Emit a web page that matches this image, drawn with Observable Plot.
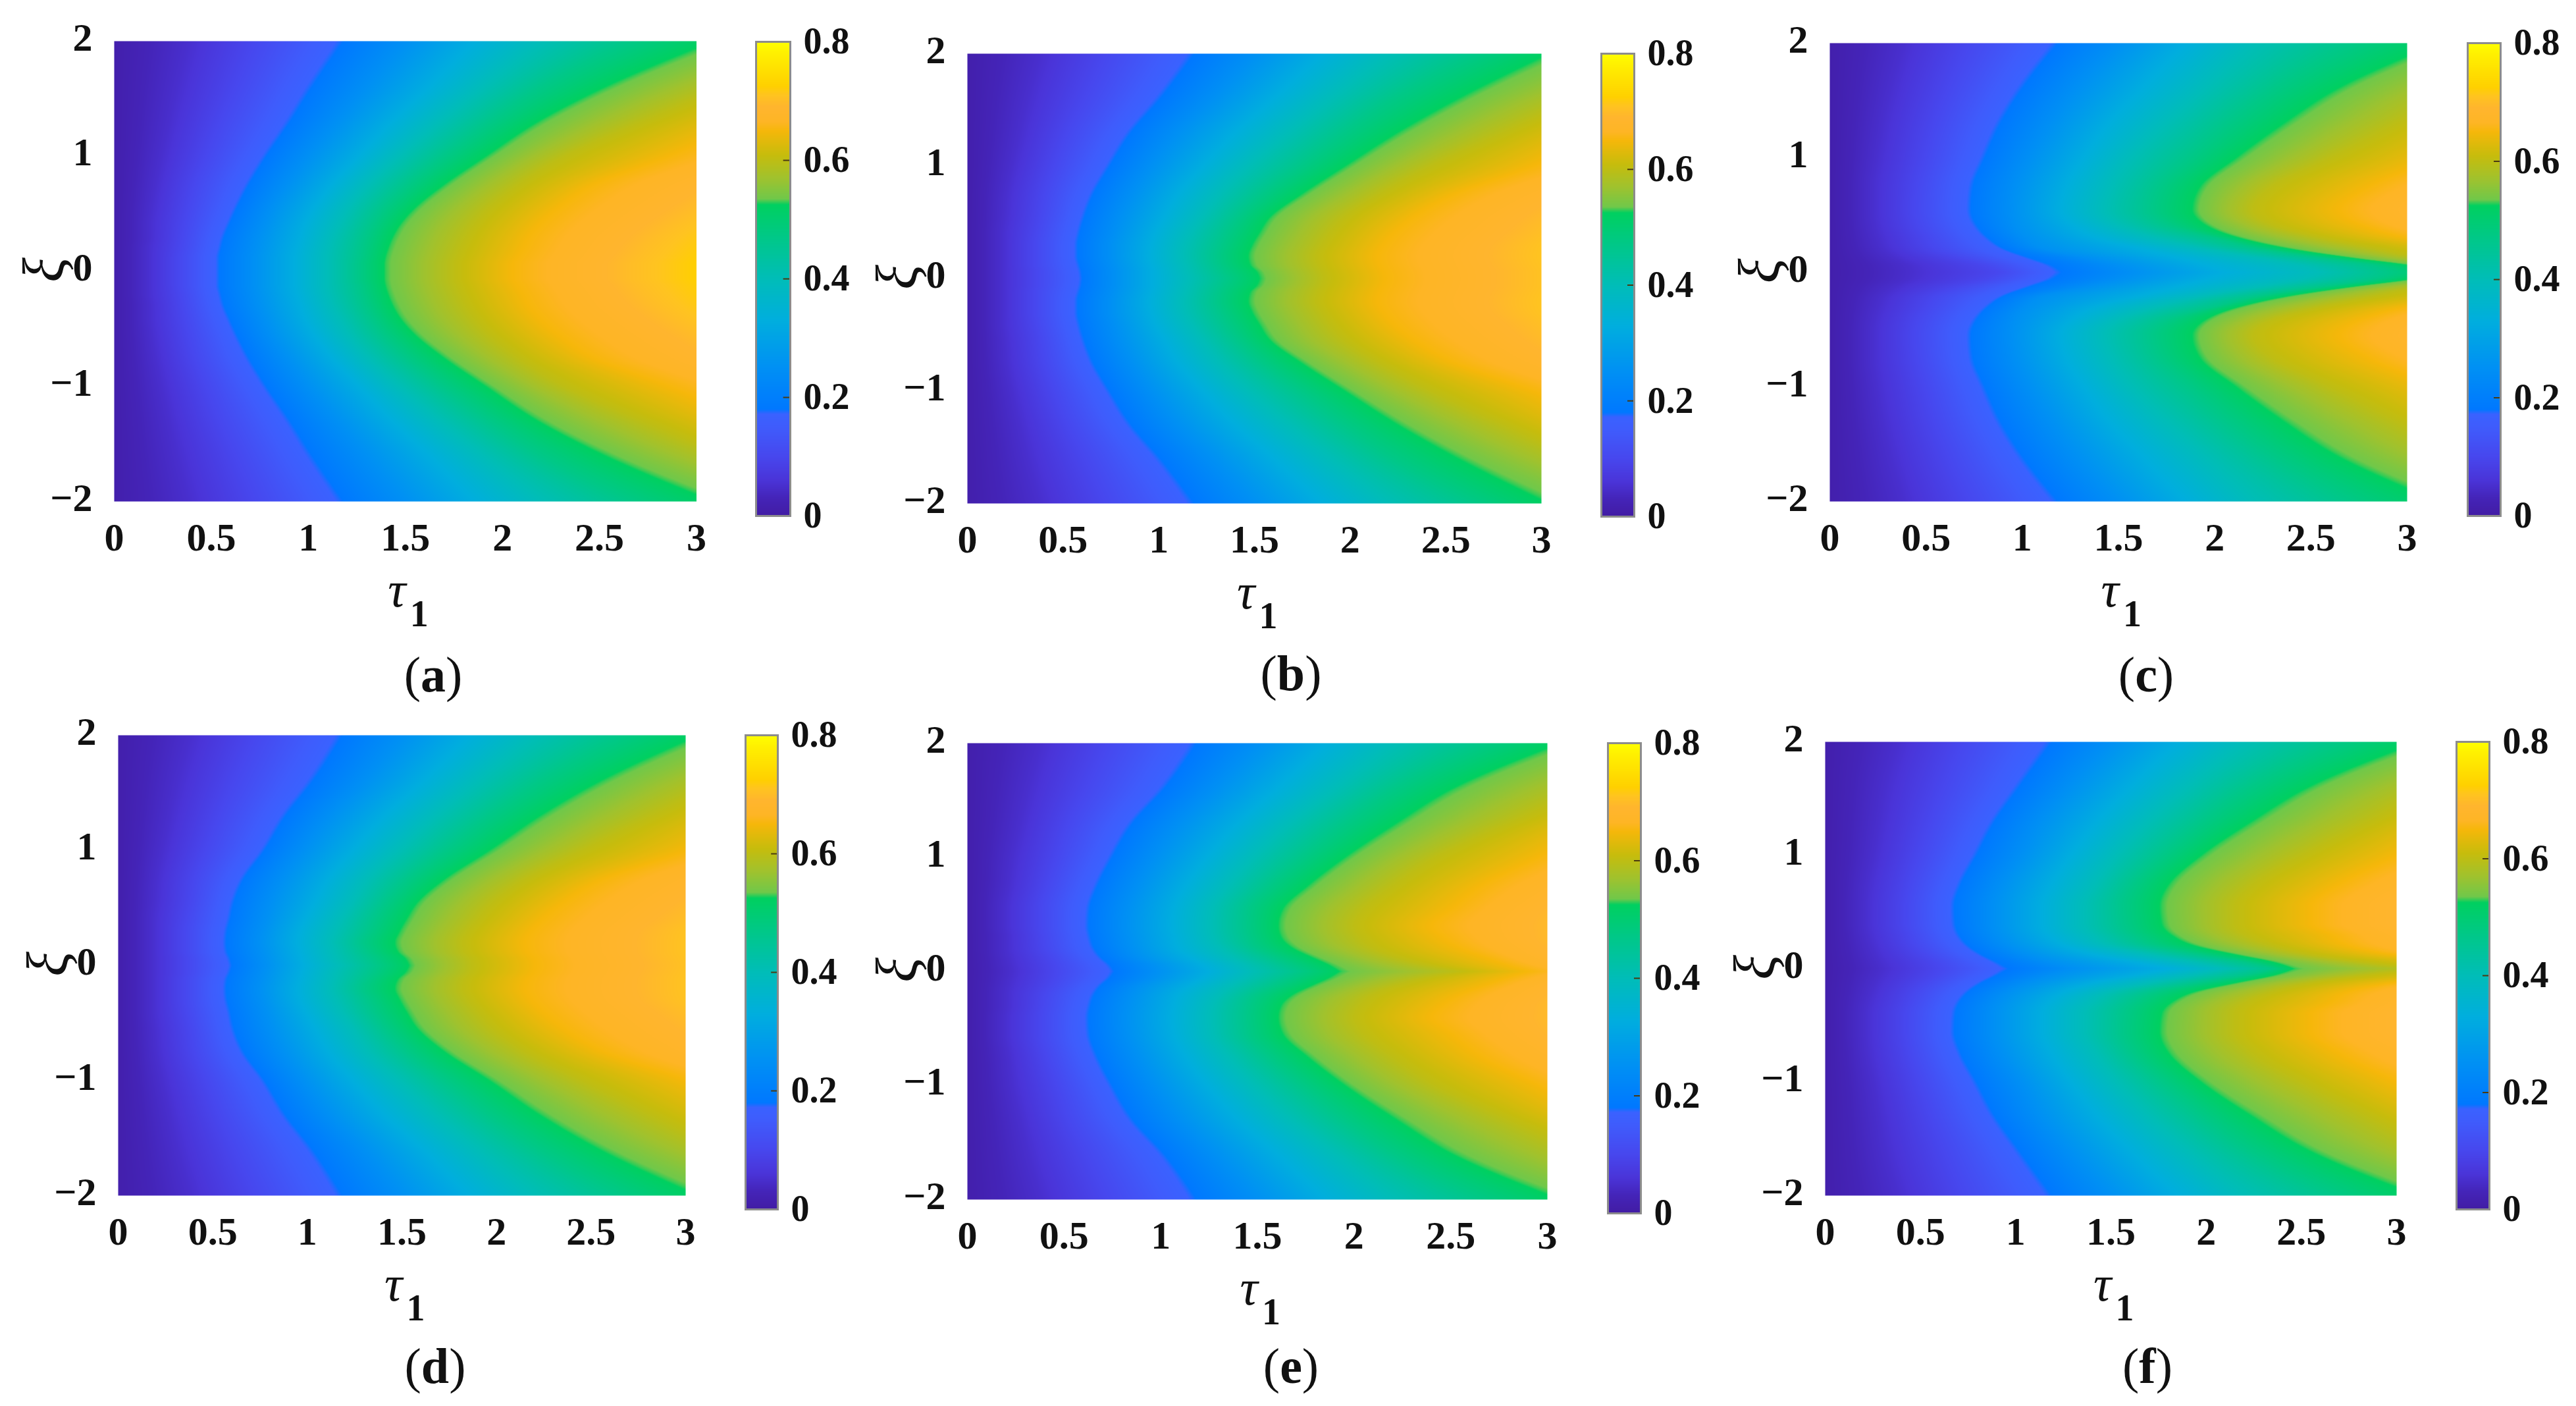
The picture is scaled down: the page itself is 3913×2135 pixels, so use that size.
<!DOCTYPE html>
<html><head><meta charset="utf-8">
<script src="https://cdn.jsdelivr.net/npm/d3@7"></script>
<script src="https://cdn.jsdelivr.net/npm/@observablehq/plot@0.6"></script>
<style>
html,body{margin:0;padding:0;background:#fff}
#chart{position:relative;width:3913px;height:2135px;overflow:hidden;font-family:"Liberation Serif",serif}
#chart svg{position:absolute;overflow:visible;background:transparent}
.cap{position:absolute;font-size:76px;line-height:1;transform:translate(-50%,-50%);color:#111;white-space:nowrap}
</style></head><body><div id="chart"></div>
<script>
// Tick labels
const tauTicks = [0, 0.5, 1, 1.5, 2, 2.5, 3];
const xiTicks = [-2, -1, 0, 1, 2];
const barTicks = [0, 0.2, 0.4, 0.6, 0.8];
const barMinorTicks = [0.2, 0.4, 0.6];
const captions = ["a", "b", "c", "d", "e", "f"];

// Colour bar
const colorStops = [0, .03, .06, .10, .15, .172, .18, .25, .33, .40, .47, .525, .535, .57, .61, .65, .665, .69, .71, .725, .78, .80];
const colorValues = ["#421ca4", "#4424b8", "#4a34d8", "#4747ee", "#3f5cfc", "#3a62ff", "#0078ff", "#0090f4", "#00aede", "#00bdb8", "#00c888", "#00d060", "#70c84a", "#a0c22e", "#c8bc0c", "#f6b70a", "#feb525", "#ffb52e", "#ffc420", "#ffd000", "#fff000", "#ffff00"];

// Heat values: for each |xi| row, the tau at which the colour reaches each level
const levelValues = [.05, .1, .175, .25, .33, .4, .47, .53, .6, .65, .7];
const xiRows = [0, .06, .12, .2, .3, .4, .55, .75, 1, 1.3, 1.6, 2];
const valueAtTauZero = 0.012;
const slopeAboveTop = 0.07;

const tauA = [
[.17,.33,.53,.72,.93,1.1,1.26,1.40,1.75,2.05,2.65],
[.17,.33,.53,.72,.93,1.1,1.26,1.40,1.75,2.05,2.65],
[.17,.33,.53,.72,.93,1.1,1.27,1.405,1.76,2.07,2.68],
[.17,.34,.54,.73,.94,1.11,1.28,1.42,1.78,2.1,2.72],
[.18,.35,.555,.745,.96,1.13,1.30,1.445,1.81,2.13,2.78],
[.18,.36,.58,.77,.98,1.16,1.33,1.48,1.85,2.18,2.86],
[.19,.38,.62,.81,1.03,1.21,1.39,1.56,1.93,2.28,3.0],
[.21,.41,.68,.89,1.12,1.31,1.51,1.71,2.08,2.46,3.2],
[.24,.47,.77,1.0,1.26,1.47,1.7,1.93,2.32,2.85,3.6],
[.28,.54,.89,1.15,1.43,1.68,1.94,2.2,2.72,3.25,3.9],
[.32,.62,1.0,1.3,1.62,1.9,2.2,2.55,3.15,3.7,4.3],
[.38,.72,1.16,1.5,1.85,2.2,2.65,3.12,3.9,4.5,5.1]];
const tauB = [
[.18,.36,.59,.77,.97,1.16,1.36,1.54,1.86,2.18,2.9],
[.18,.36,.585,.77,.97,1.15,1.34,1.525,1.85,2.17,2.9],
[.18,.35,.575,.76,.96,1.14,1.32,1.49,1.83,2.15,2.88],
[.18,.35,.565,.75,.95,1.13,1.31,1.48,1.82,2.14,2.86],
[.18,.35,.565,.75,.96,1.14,1.33,1.50,1.85,2.17,2.88],
[.18,.36,.575,.77,.98,1.17,1.36,1.535,1.89,2.22,2.95],
[.19,.38,.60,.80,1.03,1.23,1.42,1.595,1.97,2.33,3.05],
[.2,.4,.645,.86,1.1,1.32,1.54,1.76,2.15,2.54,3.25],
[.23,.45,.73,.96,1.23,1.47,1.74,1.99,2.42,2.95,3.65],
[.27,.52,.84,1.1,1.4,1.68,1.97,2.27,2.8,3.3,3.95],
[.31,.61,.99,1.28,1.6,1.9,2.22,2.59,3.2,3.75,4.35],
[.38,.72,1.165,1.5,1.85,2.2,2.65,3.07,3.9,4.5,5.1]];
const tauC = [
[.42,.87,1.18,1.58,2.05,2.55,2.9,3.2,3.6,4.0,4.4],
[.4,.8,1.13,1.5,1.95,2.45,2.82,3.03,3.4,3.85,4.3],
[.34,.68,1.03,1.36,1.82,2.25,2.58,2.75,3.1,3.6,4.1],
[.28,.55,.90,1.12,1.62,1.97,2.25,2.42,2.85,3.4,3.95],
[.25,.5,.81,1.02,1.38,1.7,2.0,2.14,2.55,3.0,3.6],
[.23,.46,.755,.97,1.27,1.52,1.78,1.98,2.32,2.78,3.3],
[.22,.44,.72,.95,1.2,1.43,1.68,1.90,2.2,2.65,3.2],
[.22,.45,.73,.97,1.23,1.47,1.72,1.94,2.3,2.8,3.4],
[.24,.49,.79,1.04,1.32,1.57,1.87,2.13,2.6,3.15,3.8],
[.27,.54,.87,1.15,1.45,1.75,2.07,2.38,2.95,3.5,4.1],
[.31,.61,.98,1.28,1.62,1.95,2.3,2.66,3.3,3.9,4.5],
[.38,.72,1.165,1.5,1.85,2.2,2.7,3.2,4.0,4.6,5.2]];
const tauD = [
[.18,.36,.59,.78,.98,1.17,1.37,1.55,1.87,2.2,2.92],
[.18,.36,.58,.77,.97,1.15,1.35,1.53,1.86,2.19,2.9],
[.18,.35,.565,.76,.96,1.14,1.32,1.49,1.83,2.16,2.88],
[.18,.35,.56,.75,.95,1.13,1.3,1.475,1.82,2.15,2.88],
[.18,.35,.565,.76,.96,1.15,1.33,1.50,1.85,2.18,2.9],
[.18,.36,.58,.78,.99,1.18,1.36,1.535,1.9,2.24,2.98],
[.19,.38,.60,.81,1.04,1.24,1.42,1.595,1.98,2.35,3.1],
[.2,.4,.65,.87,1.11,1.32,1.53,1.74,2.15,2.56,3.3],
[.23,.46,.76,.98,1.24,1.48,1.73,1.98,2.45,3.0,3.7],
[.27,.53,.87,1.12,1.41,1.68,1.96,2.25,2.82,3.35,4.0],
[.31,.61,1.01,1.3,1.61,1.9,2.22,2.57,3.2,3.8,4.4],
[.38,.72,1.165,1.5,1.85,2.2,2.65,3.1,3.9,4.5,5.1]];
const tauE = [
[.23,.46,.745,.98,1.25,1.47,1.72,1.94,2.53,2.9,3.4],
[.22,.45,.72,.95,1.21,1.43,1.66,1.88,2.35,2.78,3.25],
[.21,.43,.68,.89,1.15,1.37,1.59,1.80,2.22,2.68,3.15],
[.2,.4,.645,.85,1.09,1.31,1.5,1.70,2.1,2.55,3.1],
[.2,.39,.625,.83,1.07,1.27,1.46,1.635,2.03,2.45,3.05],
[.19,.38,.615,.82,1.06,1.26,1.45,1.62,2.0,2.4,3.05],
[.19,.38,.62,.83,1.07,1.27,1.46,1.645,2.05,2.5,3.1],
[.21,.41,.66,.88,1.13,1.35,1.56,1.775,2.2,2.65,3.3],
[.23,.46,.735,.97,1.24,1.48,1.73,1.97,2.42,2.95,3.6],
[.27,.52,.84,1.1,1.4,1.67,1.95,2.24,2.8,3.3,4.0],
[.31,.61,1.0,1.28,1.6,1.9,2.2,2.53,3.2,3.9,4.6],
[.38,.72,1.165,1.5,1.85,2.2,2.65,3.1,3.9,4.5,5.1]];
const tauF = [
[.3,.6,.94,1.3,1.8,2.1,2.35,2.47,3.1,3.6,4.1],
[.28,.57,.88,1.18,1.62,1.92,2.2,2.36,2.8,3.35,3.9],
[.26,.52,.81,1.07,1.42,1.72,1.98,2.18,2.55,3.0,3.5],
[.24,.47,.74,.97,1.26,1.5,1.74,1.96,2.35,2.75,3.3],
[.22,.44,.69,.91,1.17,1.4,1.62,1.83,2.2,2.65,3.2],
[.21,.42,.67,.89,1.14,1.36,1.58,1.78,2.15,2.55,3.1],
[.21,.42,.665,.89,1.14,1.36,1.57,1.77,2.15,2.55,3.1],
[.22,.44,.70,.93,1.19,1.42,1.62,1.82,2.25,2.7,3.3],
[.25,.49,.78,1.03,1.29,1.53,1.77,1.99,2.5,3.0,3.65],
[.28,.55,.875,1.13,1.43,1.7,1.98,2.26,2.85,3.35,4.0],
[.31,.62,1.0,1.28,1.6,1.9,2.22,2.56,3.2,3.85,4.5],
[.38,.72,1.17,1.5,1.85,2.2,2.68,3.15,3.95,4.6,5.2]];
const tables = [tauA, tauB, tauC, tauD, tauE, tauF];

// Layout only: plot frame [left, right, top, bottom], bar [left, right, top, bottom], caption [x, y]
const layout = [
 {p:[172.5,1057,62,761], b:[1148,1200,63,783], c:[658,1024]},
 {p:[1469,2341,81,764], b:[2432,2482,81,784], c:[1961,1022]},
 {p:[2779,3656,65,761], b:[3748,3798,65,783], c:[3260,1024]},
 {p:[179,1041,1116,1815], b:[1132,1181,1116,1836], c:[661,2074]},
 {p:[1469,2350,1128,1821], b:[2442,2492,1128,1842], c:[1961,2074]},
 {p:[2772,3640,1126,1815], b:[3731,3781,1126,1836], c:[3262,2074]}
];

const colorScale = {type:"linear", domain:colorStops, range:colorValues, clamp:true};
const numFmt = d => d < 0 ? "\u2212" + (-d) : String(d);

// Draw the level curves through the read rows without kinks or overshoot
function rowSlopes(table){
  const n = xiRows.length;
  return levelValues.map((_, j) => {
    const h = d3.range(n-1).map(i => xiRows[i+1]-xiRows[i]);
    const s = d3.range(n-1).map(i => (table[i+1][j]-table[i][j])/h[i]);
    const m = new Array(n);
    for (let i = 1; i < n-1; i++) {
      const p = (s[i-1]*h[i] + s[i]*h[i-1])/(h[i-1]+h[i]);
      m[i] = (Math.sign(s[i-1])+Math.sign(s[i])) * Math.min(Math.abs(s[i-1]), Math.abs(s[i]), 0.5*Math.abs(p)) || 0;
    }
    m[0] = (3*s[0]-m[1])/2;
    m[n-1] = (3*s[n-2]-m[n-2])/2;
    return m;
  });
}

function field(table){
  const slopes = rowSlopes(table);
  const cache = new Map();
  const crossings = a => {
    let c = cache.get(a);
    if (c) return c;
    let i = d3.bisectRight(xiRows, a) - 1;
    i = Math.max(0, Math.min(xiRows.length - 2, i));
    const h = xiRows[i+1] - xiRows[i], t = (a - xiRows[i]) / h;
    const t2 = t*t, t3 = t2*t;
    c = levelValues.map((_, j) =>
      (2*t3-3*t2+1)*table[i][j] + (t3-2*t2+t)*h*slopes[j][i] + (-2*t3+3*t2)*table[i+1][j] + (t3-t2)*h*slopes[j][i+1]);
    cache.set(a, c);
    return c;
  };
  return (tau, xi) => {
    const row = crossings(Math.abs(xi));
    let prevTau = 0, prevV = valueAtTauZero;
    for (let j = 0; j < levelValues.length; j++) {
      const c = row[j];
      if (tau <= c) return prevV + (tau - prevTau) / (c - prevTau) * (levelValues[j] - prevV);
      prevTau = c; prevV = levelValues[j];
    }
    return prevV + (tau - prevTau) * slopeAboveTop;
  };
}

const chart = document.getElementById("chart");
const serif = {fontFamily:"'Liberation Serif',serif", color:"#111"};

function place(el, left, top){ el.style.left = left + "px"; el.style.top = top + "px"; chart.appendChild(el); }

tables.forEach((table, k) => {
  const {p, b, c} = layout[k];
  const m = {l:170, r:40, t:40, bt:190};
  const main = Plot.plot({
    width: p[1]-p[0]+m.l+m.r, height: p[3]-p[2]+m.t+m.bt,
    marginLeft:m.l, marginRight:m.r, marginTop:m.t, marginBottom:m.bt,
    style:{...serif, background:"transparent", overflow:"visible"},
    x:{domain:[0,3], axis:null}, y:{domain:[-2,2], axis:null},
    color:colorScale,
    marks:[
      Plot.raster({fill:field(table), x1:0, x2:3, y1:-2, y2:2, pixelSize:1}),
      Plot.axisX(tauTicks, {anchor:"bottom", tickSize:0, tickPadding:32, fontSize:60, fontWeight:"bold", tickFormat:numFmt, label:null}),
      Plot.axisY(xiTicks, {anchor:"left", tickSize:0, tickPadding:33, fontSize:60, fontWeight:"bold", tickFormat:numFmt, label:null, dy:-5}),
      Plot.text(["\u03C4"], {x:1.5, y:-2, dx:-13, dy:135, fontSize:76, fontStyle:"italic", fill:"#111", textAnchor:"middle", lineAnchor:"middle"}),
      Plot.text(["1"], {x:1.5, y:-2, dx:21, dy:172, fontSize:56, fontWeight:"bold", fill:"#111", textAnchor:"middle", lineAnchor:"middle"}),
      Plot.text(["\u03BE"], {x:0, y:0, dx:-106, dy:-2, rotate:-90, fontSize:88, fontStyle:"italic", fill:"#111", textAnchor:"middle", lineAnchor:"middle"})
    ]
  });
  place(main, p[0]-m.l, p[2]-m.t);

  const bm = {l:6, r:110, t:30, bt:30};
  const bar = Plot.plot({
    width:b[1]-b[0]+bm.l+bm.r, height:b[3]-b[2]+bm.t+bm.bt,
    marginLeft:bm.l, marginRight:bm.r, marginTop:bm.t, marginBottom:bm.bt,
    style:{...serif, background:"transparent", overflow:"visible"},
    x:{domain:[0,1], axis:null}, y:{domain:[0,.8], axis:null},
    color:colorScale,
    marks:[
      Plot.raster({fill:(x,y)=>y, x1:0, x2:1, y1:0, y2:.8, pixelSize:1}),
      Plot.ruleY(barMinorTicks, {x1:.8, x2:1, stroke:"#4a3a10", strokeWidth:2}),
      Plot.frame({stroke:"#8c8c8c", strokeWidth:3}),
      Plot.axisY(barTicks, {anchor:"right", tickSize:0, tickPadding:20, fontSize:56, fontWeight:"bold", tickFormat:numFmt, label:null})
    ]
  });
  place(bar, b[0]-bm.l, b[2]-bm.t);

  const cap = document.createElement("div");
  cap.className = "cap";
  cap.innerHTML = "(<b>" + captions[k] + "</b>)";
  place(cap, c[0], c[1]);
});
</script></body></html>
